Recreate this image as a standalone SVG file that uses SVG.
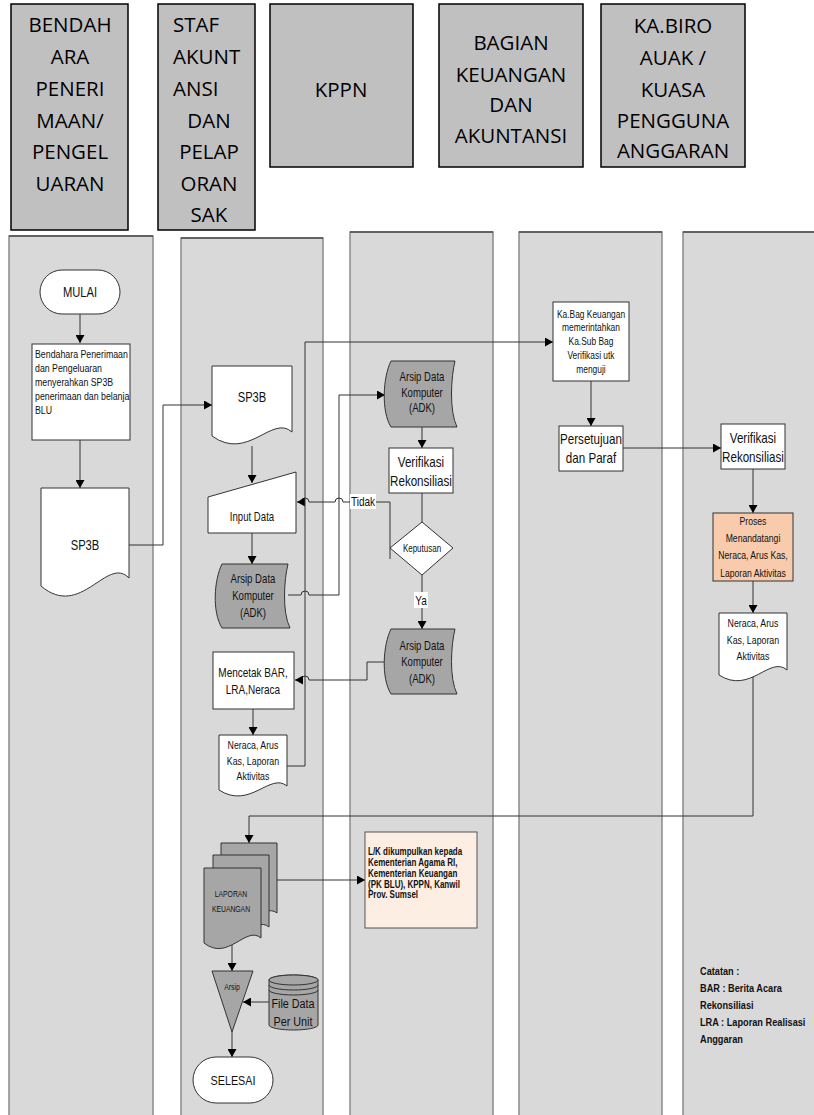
<svg xmlns="http://www.w3.org/2000/svg" width="814" height="1115" viewBox="0 0 814 1115">
<style>
.hb{fill:#c0c0c0;stroke:#000;stroke-width:1.5}
.h{font-family:"Open Sans","Liberation Sans",sans-serif;font-size:20.5px;fill:#000}
.lane{fill:#d9d9d9;stroke:#8a8a8a;stroke-width:1.5}
.lt{stroke:#4d4d4d;stroke-width:1.5}
.box{fill:#fff;stroke:#333;stroke-width:1}
.gr{fill:#a6a6a6;stroke:#333;stroke-width:1}
.or{fill:#f8cbad;stroke:#333;stroke-width:1}
.lk{fill:#fdeee4;stroke:#555;stroke-width:1}
.n{font-family:"Liberation Sans",Arial,sans-serif;fill:#111}
.c{text-anchor:middle}
.b{font-weight:bold}
.ln{fill:none;stroke:#333;stroke-width:1}
</style>
<defs>
<marker id="ar" markerUnits="userSpaceOnUse" markerWidth="9" markerHeight="9" refX="8" refY="4.5" orient="auto"><path d="M0,0 L8,4.5 L0,9 Z" fill="#000"/></marker>
</defs>

<g id="headers">
<g id="h1"><rect class="hb" x="11" y="4" width="117" height="226"/>
<text class="h c" x="70"><tspan x="70" y="32">BENDAH</tspan><tspan x="70" y="64">ARA</tspan><tspan x="70" y="96">PENERI</tspan><tspan x="70" y="128">MAAN/</tspan><tspan x="70" y="159">PENGEL</tspan><tspan x="70" y="191">UARAN</tspan></text></g>
<g id="h2"><rect class="hb" x="158" y="4" width="97" height="226"/>
<text class="h" x="173" y="32">STAF</text><text class="h" x="173" y="64">AKUNT</text><text class="h" x="173" y="96">ANSI</text>
<text class="h c"><tspan x="209" y="128">DAN</tspan><tspan x="209" y="159">PELAP</tspan><tspan x="209" y="191">ORAN</tspan><tspan x="209" y="222">SAK</tspan></text></g>
<g id="h3"><rect class="hb" x="270" y="4" width="143" height="163"/><text class="h c" x="341" y="97">KPPN</text></g>
<g id="h4"><rect class="hb" x="439" y="4" width="144" height="163"/>
<text class="h c"><tspan x="511" y="50">BAGIAN</tspan><tspan x="511" y="82">KEUANGAN</tspan><tspan x="511" y="112">DAN</tspan><tspan x="511" y="143">AKUNTANSI</tspan></text></g>
<g id="h5"><rect class="hb" x="601" y="4" width="144" height="163"/>
<text class="h c"><tspan x="673" y="33">KA.BIRO</tspan><tspan x="673" y="65">AUAK /</tspan><tspan x="673" y="97">KUASA</tspan><tspan x="673" y="128">PENGGUNA</tspan><tspan x="673" y="158">ANGGARAN</tspan></text></g>
</g>

<g id="lanes">
<rect class="lane" x="9" y="236" width="144" height="890"/><line class="lt" x1="9" y1="236" x2="153" y2="236"/>
<rect class="lane" x="181" y="238" width="142" height="890"/><line class="lt" x1="181" y1="238" x2="323" y2="238"/>
<rect class="lane" x="350" y="232" width="143" height="890"/><line class="lt" x1="350" y1="232" x2="493" y2="232"/>
<rect class="lane" x="519" y="232" width="143" height="890"/><line class="lt" x1="519" y1="232" x2="662" y2="232"/>
<rect class="lane" x="683" y="232" width="140" height="890"/><line class="lt" x1="683" y1="232" x2="814" y2="232"/>
</g>

<g id="connectors">
<path class="ln" d="M80,314 V343" marker-end="url(#ar)"/>
<path class="ln" d="M80,440 V488" marker-end="url(#ar)"/>
<path class="ln" d="M129,545 H163 V405 H212" marker-end="url(#ar)"/>
<path class="ln" d="M252,446 V483" marker-end="url(#ar)"/>
<path class="ln" d="M252,533 V564" marker-end="url(#ar)"/>
<path class="ln" d="M288,595 H301 A4,4 0 0 1 309,595 H339 V395 H385" marker-end="url(#ar)"/>
<path class="ln" d="M422,427 V448" marker-end="url(#ar)"/>
<path class="ln" d="M422,493 V522"/>
<path class="ln" d="M390,559 V502 H343 A4,4 0 0 0 335,502 H309 A4,4 0 0 0 301,502 H297" marker-end="url(#ar)"/>
<path class="ln" d="M422,575 V629" marker-end="url(#ar)"/>
<path class="ln" d="M385,662 H367 V680 H309 A4,4 0 0 0 301,680 H295" marker-end="url(#ar)"/>
<path class="ln" d="M253,709 V735" marker-end="url(#ar)"/>
<path class="ln" d="M287,766 H305 V342 H553" marker-end="url(#ar)"/>
<path class="ln" d="M591,381 V426" marker-end="url(#ar)"/>
<path class="ln" d="M623,448 H721" marker-end="url(#ar)"/>
<path class="ln" d="M753,469 V513" marker-end="url(#ar)"/>
<path class="ln" d="M753,581 V613" marker-end="url(#ar)"/>
<path class="ln" d="M753,676 V816 H249 V843" marker-end="url(#ar)"/>
<path class="ln" d="M277,880 H365" marker-end="url(#ar)"/>
<path class="ln" d="M232,944 V971" marker-end="url(#ar)"/>
<path class="ln" d="M269,1002 H243" marker-end="url(#ar)"/>
<path class="ln" d="M232,1032 V1057" marker-end="url(#ar)"/>
<rect x="350" y="494" width="26" height="15" fill="#fff"/>
<text class="n c" x="363" y="506" font-size="12.5" transform="matrix(0.8,0,0,1,72.6,0)">Tidak</text>
<rect x="414" y="592" width="14" height="16" fill="#fff"/>
<text class="n c" x="421" y="605" font-size="12.5" transform="matrix(0.8,0,0,1,84.2,0)">Ya</text>
</g>

<g id="mulai"><rect class="box" x="40" y="270" width="80" height="44" rx="22"/><text class="n c" x="80" y="297" font-size="14" transform="matrix(0.8,0,0,1,16,0)">MULAI</text></g>

<g id="bendahara"><rect class="box" x="32" y="344" width="98" height="96"/>
<text class="n" font-size="11" transform="matrix(0.8,0,0,1,7,0)"><tspan x="35" y="358">Bendahara Penerimaan</tspan><tspan x="35" y="372">dan Pengeluaran</tspan><tspan x="35" y="386">menyerahkan SP3B</tspan><tspan x="35" y="400">penerimaan dan belanja</tspan><tspan x="35" y="414">BLU</tspan></text></g>

<g id="sp3b1"><path class="box" d="M41,488 H129 V578 C107,555 81,620 41,586 Z"/><text class="n c" x="85" y="550" font-size="14" transform="matrix(0.8,0,0,1,17,0)">SP3B</text></g>

<g id="sp3b2"><path class="box" d="M212,366 H292 V432 C272,414 248,462 212,436 Z"/><text class="n c" x="252" y="402" font-size="14" transform="matrix(0.8,0,0,1,50.4,0)">SP3B</text></g>

<g id="input"><path class="box" d="M208,497 L296,472 V533 H208 Z"/><text class="n c" x="252" y="521" font-size="12" transform="matrix(0.8,0,0,1,50.4,0)">Input Data</text></g>

<g id="adk1"><path class="gr" d="M222,564 H288 C284,580 282,612 290,628 H222 C212,612 214,580 222,564 Z"/>
<text class="n c" font-size="12" transform="matrix(0.8,0,0,1,50.6,0)"><tspan x="253" y="583">Arsip Data</tspan><tspan x="253" y="600">Komputer</tspan><tspan x="253" y="617">(ADK)</tspan></text></g>

<g id="adk2"><path class="gr" d="M391,361 H455 C451,377 449,411 457,427 H391 C381,411 383,377 391,361 Z"/>
<text class="n c" font-size="12" transform="matrix(0.8,0,0,1,84.4,0)"><tspan x="422" y="381">Arsip Data</tspan><tspan x="422" y="397">Komputer</tspan><tspan x="422" y="412">(ADK)</tspan></text></g>

<g id="verif1"><rect class="box" x="389" y="448" width="64" height="45"/>
<text class="n c" font-size="14.5" transform="matrix(0.8,0,0,1,84.2,0)"><tspan x="421" y="467">Verifikasi</tspan><tspan x="421" y="486">Rekonsiliasi</tspan></text></g>

<g id="keputusan"><path class="box" d="M422,522 L453,548 L422,575 L390,548 Z"/><text class="n c" x="422" y="552" font-size="10" transform="matrix(0.8,0,0,1,84.4,0)">Keputusan</text></g>

<g id="adk3"><path class="gr" d="M391,629 H455 C451,645 449,678 457,694 H391 C381,678 383,645 391,629 Z"/>
<text class="n c" font-size="12" transform="matrix(0.8,0,0,1,84.4,0)"><tspan x="422" y="650">Arsip Data</tspan><tspan x="422" y="666">Komputer</tspan><tspan x="422" y="683">(ADK)</tspan></text></g>

<g id="mencetak"><rect class="box" x="213" y="652" width="81" height="57"/>
<text class="n c" font-size="12.5" transform="matrix(0.8,0,0,1,50.6,0)"><tspan x="253" y="677">Mencetak BAR,</tspan><tspan x="253" y="694">LRA,Neraca</tspan></text></g>

<g id="neraca1"><path class="box" d="M219,735 H287 V786 C270,772 250,810 219,790 Z"/>
<text class="n c" font-size="11" transform="matrix(0.8,0,0,1,50.6,0)"><tspan x="253" y="749">Neraca, Arus</tspan><tspan x="253" y="765">Kas, Laporan</tspan><tspan x="253" y="780">Aktivitas</tspan></text></g>

<g id="kabag"><rect class="box" x="553" y="302" width="76" height="79"/>
<text class="n c" font-size="10.5" transform="matrix(0.8,0,0,1,118.2,0)"><tspan x="591" y="318">Ka.Bag Keuangan</tspan><tspan x="591" y="331">memerintahkan</tspan><tspan x="591" y="345">Ka.Sub Bag</tspan><tspan x="591" y="359">Verifikasi utk</tspan><tspan x="591" y="373">menguji</tspan></text></g>

<g id="persetujuan"><rect class="box" x="559" y="426" width="64" height="45"/>
<text class="n c" font-size="14.5" transform="matrix(0.8,0,0,1,118.2,0)"><tspan x="591" y="444">Persetujuan</tspan><tspan x="591" y="463">dan Paraf</tspan></text></g>

<g id="verif2"><rect class="box" x="721" y="424" width="64" height="45"/>
<text class="n c" font-size="14.5" transform="matrix(0.8,0,0,1,150.6,0)"><tspan x="753" y="443">Verifikasi</tspan><tspan x="753" y="462">Rekonsiliasi</tspan></text></g>

<g id="proses"><rect class="or" x="713" y="513" width="80" height="68"/>
<text class="n c" font-size="10.8" transform="matrix(0.8,0,0,1,150.6,0)"><tspan x="753" y="525">Proses</tspan><tspan x="753" y="542">Menandatangi</tspan><tspan x="753" y="559">Neraca, Arus Kas,</tspan><tspan x="753" y="577">Laporan Aktivitas</tspan></text></g>

<g id="neraca2"><path class="box" d="M719,613 H787 V670 C770,655 750,695 719,675 Z"/>
<text class="n c" font-size="11" transform="matrix(0.8,0,0,1,150.6,0)"><tspan x="753" y="627">Neraca, Arus</tspan><tspan x="753" y="644">Kas, Laporan</tspan><tspan x="753" y="660">Aktivitas</tspan></text></g>

<g id="laporan">
<path class="gr" d="M221,843 H277 V913 C263,902 245,935 221,918 Z"/>
<path class="gr" d="M213,855 H269 V927 C255,915 237,950 213,932 Z"/>
<path class="gr" d="M204,868 H261 V938 C246,925 228,962 204,943 Z"/>
<text class="n c" font-size="8.5" transform="matrix(0.8,0,0,1,46.2,0)"><tspan x="231" y="897">LAPORAN</tspan><tspan x="231" y="912">KEUANGAN</tspan></text></g>

<g id="lk"><rect class="lk" x="365" y="832" width="112" height="96"/>
<text class="n b" font-size="10" transform="matrix(0.8,0,0,1,73.6,0)"><tspan x="368" y="855">L/K dikumpulkan kepada</tspan><tspan x="368" y="866">Kementerian Agama RI,</tspan><tspan x="368" y="877">Kementerian Keuangan</tspan><tspan x="368" y="888">(PK BLU), KPPN, Kanwil</tspan><tspan x="368" y="898">Prov. Sumsel</tspan></text></g>

<g id="arsip"><path class="gr" d="M212,971 H253 L232,1032 Z"/><text class="n c" x="232" y="990" font-size="8.5" transform="matrix(0.8,0,0,1,46.4,0)">Arsip</text></g>

<g id="filedata"><path class="gr" d="M269,980 A24.5,5 0 0 1 318,980 V1025 A24.5,5 0 0 1 269,1025 Z"/>
<ellipse cx="293.5" cy="980" rx="24.5" ry="5" fill="#a6a6a6" stroke="#333"/>
<path class="ln" d="M269,985 A24.5,5 0 0 0 318,985 M269,990 A24.5,5 0 0 0 318,990"/>
<text class="n c" font-size="13.5" transform="matrix(0.8,0,0,1,58.6,0)"><tspan x="293" y="1008">File Data</tspan><tspan x="293" y="1026">Per Unit</tspan></text></g>

<g id="selesai"><rect class="box" x="193" y="1057" width="80" height="46" rx="23"/><text class="n c" x="233" y="1085" font-size="13.5" transform="matrix(0.8,0,0,1,46.6,0)">SELESAI</text></g>

<g id="catatan"><text class="n b" font-size="11.5" transform="matrix(0.8,0,0,1,140,0)"><tspan x="700" y="975">Catatan :</tspan><tspan x="700" y="992">BAR : Berita Acara</tspan><tspan x="700" y="1009">Rekonsiliasi</tspan><tspan x="700" y="1026">LRA : Laporan Realisasi</tspan><tspan x="700" y="1043">Anggaran</tspan></text></g>
</svg>
